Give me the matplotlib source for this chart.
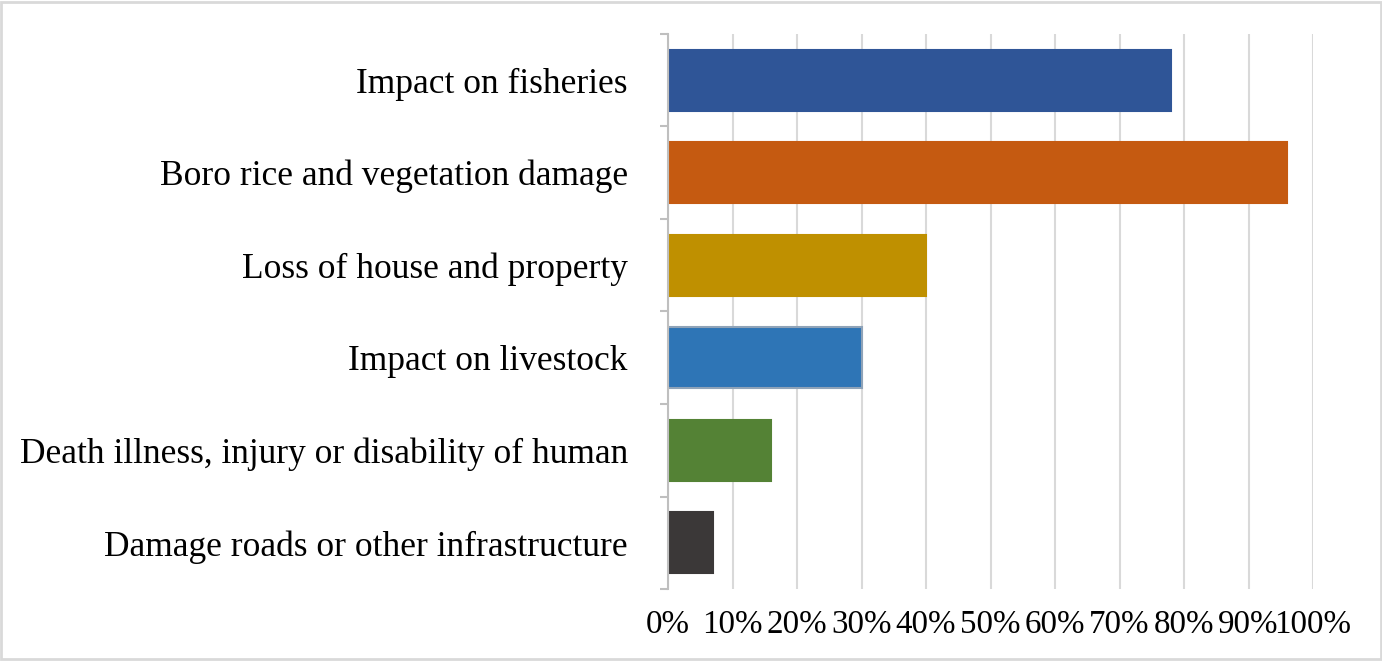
import matplotlib.pyplot as plt
from matplotlib.patches import Rectangle
from matplotlib.ticker import FixedLocator, PercentFormatter

categories = [
    "Impact on fisheries",
    "Boro rice and vegetation damage",
    "Loss of house and property",
    "Impact on livestock",
    "Death illness, injury or disability of human",
    "Damage roads or other infrastructure",
]
values = [78, 96, 40, 30, 16, 7]
colors = ["#2F5597", "#C55A11", "#BF9000", "#2E75B6", "#548235", "#3B3838"]
edges = ["#2F5597", "#C55A11", "#BF9000", "#8FA3B8", "#548235", "#3B3838"]
x_ticks = [0, 10, 20, 30, 40, 50, 60, 70, 80, 90, 100]

plt.rcParams["font.family"] = ["Liberation Serif", "DejaVu Serif"]

fig = plt.figure(figsize=(13.82, 6.61), dpi=100)
ax = fig.add_axes([0.4834, 0.1089, 0.4667, 0.8397])

pos = list(range(len(categories)))
ax.barh(pos, values, height=0.66, color=colors, edgecolor=edges, linewidth=1.5, zorder=3)

ax.set_xlim(0, 100)
ax.set_ylim(len(categories) - 0.5, -0.5)
ax.set_xticks(x_ticks)
ax.xaxis.set_major_formatter(PercentFormatter(decimals=0))
ax.set_yticks(pos)
ax.set_yticklabels(categories)
ax.yaxis.set_minor_locator(FixedLocator([p - 0.5 for p in pos] + [len(pos) - 0.5]))

ax.tick_params(axis="x", length=0, pad=15, labelsize=23.8)
ax.tick_params(axis="y", which="major", length=0, pad=29, labelsize=25.5)
ax.tick_params(axis="y", which="minor", length=6, width=1.5, color="#BFBFBF")

ax.grid(axis="x", color="#D9D9D9", linewidth=1.5, zorder=0)
for s in ["top", "right", "bottom"]:
    ax.spines[s].set_visible(False)
ax.spines["left"].set_color("#BFBFBF")
ax.spines["left"].set_linewidth(1.5)
ax.spines["left"].set_zorder(4)

fig.patches.append(Rectangle((0.001, 0.003), 0.998, 0.994, transform=fig.transFigure,
                             fill=False, edgecolor="#D9D9D9", linewidth=2))

fig.savefig("out.png", dpi=100)
